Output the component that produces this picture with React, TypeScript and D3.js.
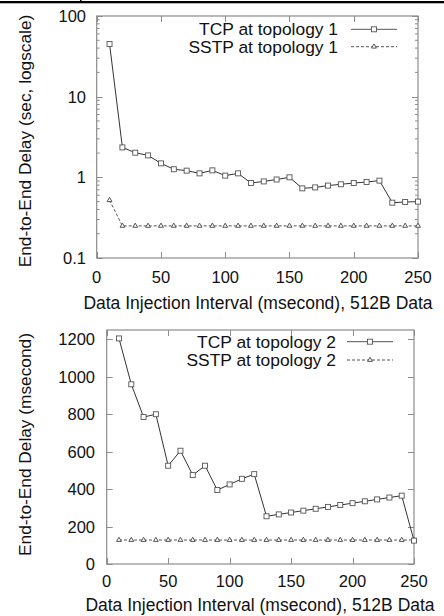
import React, { useEffect, useRef } from 'react';
import * as d3 from 'd3';

// data injection interval (ms)
const intervals = [10, 20, 30, 40, 50, 60, 70, 80, 90, 100, 110, 120, 130, 140, 150, 160, 170, 180, 190, 200, 210, 220, 230, 240, 250];

// topology 1, seconds (log scale)
const tcpTopo1 = [45, 2.35, 2.02, 1.87, 1.49, 1.26, 1.21, 1.12, 1.22, 1.05, 1.12, 0.85, 0.89, 0.94, 1.0, 0.73, 0.75, 0.79, 0.82, 0.85, 0.875, 0.91, 0.485, 0.494, 0.5];
const sstpTopo1 = [0.52, 0.25, 0.25, 0.25, 0.25, 0.25, 0.25, 0.25, 0.25, 0.25, 0.25, 0.25, 0.25, 0.25, 0.25, 0.25, 0.25, 0.25, 0.25, 0.25, 0.25, 0.25, 0.25, 0.25, 0.25];

// topology 2, milliseconds
const tcpTopo2 = [1205, 960, 785, 800, 525, 605, 475, 525, 395, 425, 455, 480, 255, 265, 275, 285, 295, 305, 315, 325, 335, 345, 355, 365, 125];
const sstpTopo2 = [128, 128, 128, 128, 128, 128, 128, 128, 128, 128, 128, 128, 128, 128, 128, 128, 128, 128, 128, 128, 128, 128, 128, 128, 128];

const xTicks = [0, 50, 100, 150, 200, 250];
const logTicks = [0.1, 1, 10, 100];
const linTicks = [0, 200, 400, 600, 800, 1000, 1200];

const xLabel = 'Data Injection Interval (msecond), 512B Data';

const FONT = '"Liberation Sans", Arial, sans-serif';
const FRAME = '#8c8c8c';

const App = () => {
  const ref = useRef(null);

  useEffect(() => {
    if (!ref.current) return;
    const svg = d3.select(ref.current);
    svg.selectAll('*').remove();

    // paper table border at the very top
    svg.append('rect').attr('x', 0).attr('y', 1).attr('width', 444).attr('height', 2.3).attr('fill', '#000');
    svg.append('rect').attr('x', 80).attr('y', 0).attr('width', 1.5).attr('height', 2).attr('fill', '#000');

    const drawPanel = (opts) => {
      const { left, right, top, bottom, y, yTicks, minorTicks, yTickFmt, yLabel, yLabelCenter, xLabelCenter,
        xTickBase, xLabelBase, yTickRight, tcp, sstp, tcpName, sstpName, legendY, legendX, legendLine } = opts;
      const x = d3.scaleLinear().domain([0, 250]).range([left, right]);
      const g = svg.append('g');

      // minor ticks
      minorTicks.forEach(t => {
        const yy = y(t);
        g.append('line').attr('x1', left).attr('x2', left + 3).attr('y1', yy).attr('y2', yy).attr('stroke', FRAME);
        g.append('line').attr('x1', right).attr('x2', right - 3).attr('y1', yy).attr('y2', yy).attr('stroke', FRAME);
      });
      // major y ticks
      yTicks.forEach(t => {
        const yy = Math.round(y(t)) + 0.5;
        g.append('line').attr('x1', left).attr('x2', left + 6).attr('y1', yy).attr('y2', yy).attr('stroke', FRAME);
        g.append('line').attr('x1', right).attr('x2', right - 6).attr('y1', yy).attr('y2', yy).attr('stroke', FRAME);
        g.append('text').attr('x', yTickRight).attr('y', y(t) + 6).attr('text-anchor', 'end')
          .style('font-family', FONT).style('font-size', '16.5px').attr('fill', '#111').text(yTickFmt(t));
      });
      // x ticks
      xTicks.forEach(t => {
        const xx = Math.round(x(t)) + 0.5;
        g.append('line').attr('x1', xx).attr('x2', xx).attr('y1', bottom).attr('y2', bottom - 6).attr('stroke', FRAME);
        g.append('line').attr('x1', xx).attr('x2', xx).attr('y1', top).attr('y2', top + 6).attr('stroke', FRAME);
        g.append('text').attr('x', x(t)).attr('y', xTickBase).attr('text-anchor', 'middle')
          .style('font-family', FONT).style('font-size', '16.5px').attr('fill', '#111').text(t);
      });
      // frame
      g.append('rect').attr('x', left).attr('y', top).attr('width', right - left).attr('height', bottom - top)
        .attr('fill', 'none').attr('stroke', FRAME).attr('stroke-width', 1.2);

      // axis labels
      g.append('text').attr('x', xLabelCenter).attr('y', xLabelBase).attr('text-anchor', 'middle')
        .style('font-family', FONT).style('font-size', '17.5px').attr('fill', '#111').text(xLabel);
      g.append('text').attr('transform', `translate(31, ${yLabelCenter}) rotate(-90)`).attr('text-anchor', 'middle')
        .style('font-family', FONT).style('font-size', '17.3px').attr('fill', '#111').text(yLabel);

      const line = d3.line().x((d, i) => x(intervals[i])).y(d => y(d));

      // SSTP
      g.append('path').attr('d', line(sstp)).attr('fill', 'none').attr('stroke', '#555')
        .attr('stroke-width', 1).attr('stroke-dasharray', '3,2');
      const tri = d3.symbol().type(d3.symbolTriangle).size(10);
      sstp.forEach((v, i) => {
        g.append('path').attr('d', tri()).attr('transform', `translate(${x(intervals[i])}, ${y(v)})`)
          .attr('fill', '#fff').attr('stroke', '#444').attr('stroke-width', 0.9);
      });

      // TCP
      g.append('path').attr('d', line(tcp)).attr('fill', 'none').attr('stroke', '#333').attr('stroke-width', 1);
      tcp.forEach((v, i) => {
        g.append('rect').attr('x', x(intervals[i]) - 2.5).attr('y', y(v) - 2.5).attr('width', 5).attr('height', 5)
          .attr('fill', '#fff').attr('stroke', '#555').attr('stroke-width', 0.9);
      });

      // legend
      const [l1, l2] = legendLine;
      const mid = (l1 + l2) / 2;
      g.append('text').attr('x', legendX).attr('y', legendY[0] + 6).attr('text-anchor', 'end')
        .style('font-family', FONT).style('font-size', '17.4px').attr('fill', '#111').text(tcpName);
      g.append('line').attr('x1', l1).attr('x2', l2).attr('y1', legendY[0]).attr('y2', legendY[0]).attr('stroke', '#555');
      g.append('rect').attr('x', mid - 2.5).attr('y', legendY[0] - 2.5).attr('width', 5).attr('height', 5)
        .attr('fill', '#fff').attr('stroke', '#555').attr('stroke-width', 0.9);
      g.append('text').attr('x', legendX).attr('y', legendY[1] + 6).attr('text-anchor', 'end')
        .style('font-family', FONT).style('font-size', '17.4px').attr('fill', '#111').text(sstpName);
      g.append('line').attr('x1', l1).attr('x2', l2).attr('y1', legendY[1]).attr('y2', legendY[1])
        .attr('stroke', '#555').attr('stroke-dasharray', '3,2');
      g.append('path').attr('d', tri()).attr('transform', `translate(${mid}, ${legendY[1]})`)
        .attr('fill', '#fff').attr('stroke', '#444').attr('stroke-width', 0.9);
    };

    const minorLog = [];
    [0.1, 1, 10].forEach(b => { for (let k = 2; k <= 9; k++) minorLog.push(b * k); });

    drawPanel({
      left: 96.7, right: 418, top: 16, bottom: 258,
      y: d3.scaleLog().domain([0.1, 100]).range([258, 16]),
      yTicks: logTicks, minorTicks: minorLog, yTickFmt: t => String(t),
      yLabel: 'End-to-End Delay (sec, logscale)', yLabelCenter: 141,
      xTickBase: 283, xLabelBase: 309, xLabelCenter: 258, yTickRight: 86,
      tcp: tcpTopo1, sstp: sstpTopo1, tcpName: 'TCP at topology 1', sstpName: 'SSTP at topology 1',
      legendY: [29.3, 46.7], legendX: 338, legendLine: [351, 397],
    });

    drawPanel({
      left: 106.7, right: 414, top: 330, bottom: 564,
      y: d3.scaleLinear().domain([0, 1250]).range([564, 330]),
      yTicks: linTicks, minorTicks: [], yTickFmt: t => String(t),
      yLabel: 'End-to-End Delay (msecond)', yLabelCenter: 444.5,
      xTickBase: 587, xLabelBase: 611, xLabelCenter: 260, yTickRight: 95,
      tcp: tcpTopo2, sstp: sstpTopo2, tcpName: 'TCP at topology 2', sstpName: 'SSTP at topology 2',
      legendY: [341.7, 360], legendX: 336, legendLine: [347, 393],
    });
  }, []);

  return (
    <svg ref={ref} width={444} height={616}
      style={{ position: 'absolute', left: 0, top: 0, background: '#fff' }} />
  );
};

export default App;
